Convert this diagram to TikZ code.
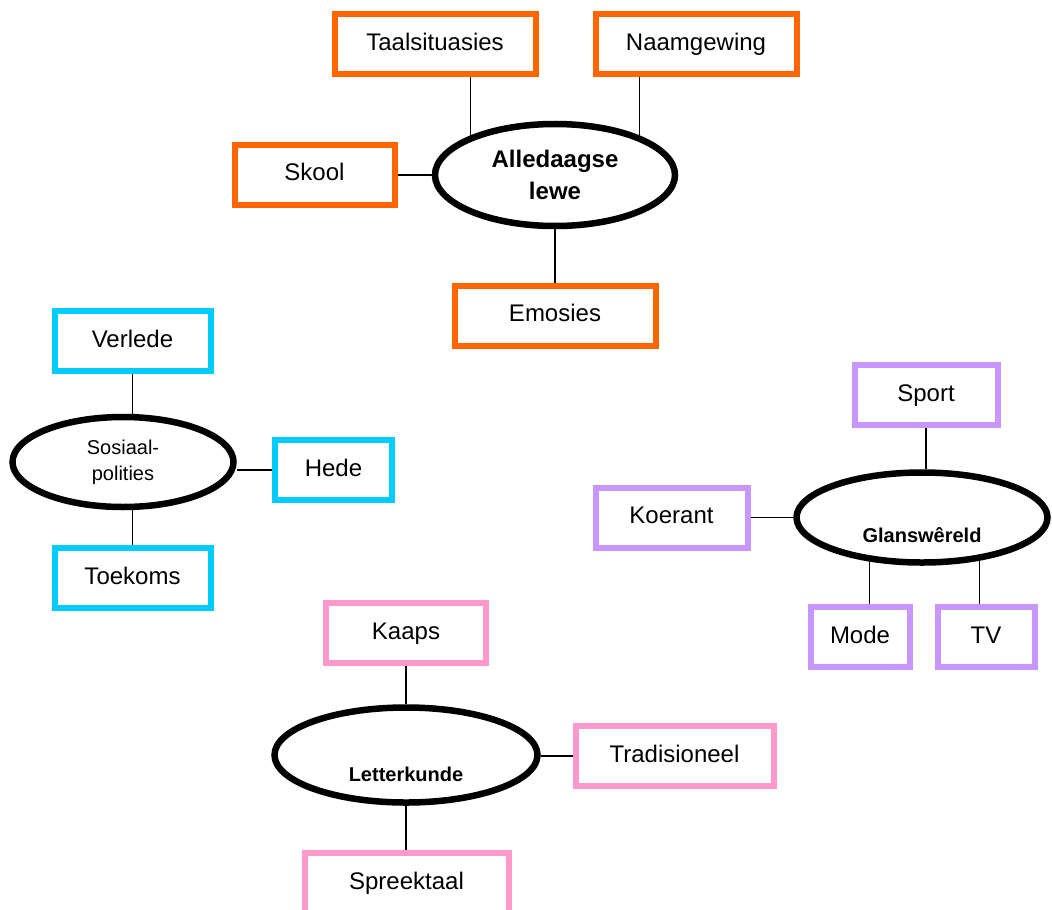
\documentclass[tikz,border=0pt]{standalone}
\usepackage{fontspec}
\setmainfont{Liberation Sans}
\usepackage{xcolor}
\usepackage{tikz}
\usetikzlibrary{shapes}

\definecolor{lewecol}{RGB}{255,102,0}
\definecolor{sosiaalcol}{RGB}{0,204,255}
\definecolor{glanscol}{RGB}{200,150,255}
\definecolor{lettercol}{RGB}{255,153,204}

\begin{document}
\begin{tikzpicture}[x=0.5pt,y=-0.5pt]
      \tikzstyle{tnode} = [draw, line width=3pt, rectangle, minimum height=30pt, inner sep=2pt, text height=9pt, text depth=3pt, font=\fontsize{12}{14}\selectfont]
      \tikzstyle{hnode} = [draw, line width=3.25pt, ellipse, inner sep=0pt, fill=white, align=center]
      \tikzstyle{cline} = [line width=0.75pt]

      \useasboundingbox (0,0) rectangle (1052,909);

      % alledaagse lewe
      \node[hnode, minimum width=120pt, minimum height=51pt, font=\bfseries\fontsize{12}{16}\selectfont] (alle) at (555, 175) {Alledaagse\\lewe};
      \node[tnode, draw=lewecol, minimum width=100.5pt] (taal) at (435, 44.5) {Taalsituasies};
      \node[tnode, draw=lewecol, minimum width=100.5pt] (naam) at (696, 44.5) {Naamgewing};
      \node[tnode, draw=lewecol, minimum width=80pt] (skool) at (314.5, 175) {Skool};
      \node[tnode, draw=lewecol, minimum width=100.5pt] (emo) at (555, 315.5) {Emosies};

      % sosiaal-polities
      \node[hnode, minimum width=110.5pt, minimum height=45pt, font=\fontsize{10}{13}\selectfont] (sos) at (123, 462) {Sosiaal-\\polities};
      \node[tnode, draw=sosiaalcol, minimum width=78pt] (verl) at (132.5, 341) {Verlede};
      \node[tnode, draw=sosiaalcol, minimum width=58.5pt] (hede) at (333.5, 470) {Hede};
      \node[tnode, draw=sosiaalcol, minimum width=78pt] (toek) at (132.5, 578) {Toekoms};

      % glanswereld
      \node[hnode, minimum width=125.5pt, minimum height=45pt, font=\bfseries\fontsize{10}{12}\selectfont, text height=24.5pt, text depth=0pt] (glans) at (922, 517.5) {Glanswêreld};
      \node[tnode, draw=glanscol, minimum width=71.5pt] (sport) at (926, 395) {Sport};
      \node[tnode, draw=glanscol, minimum width=76pt] (koer) at (671.5, 517.5) {Koerant};
      \node[tnode, draw=glanscol, minimum width=49.5pt] (mode) at (860, 637) {Mode};
      \node[tnode, draw=glanscol, minimum width=48.5pt] (tv) at (986, 637) {TV};

      % letterkunde
      \node[hnode, minimum width=131.5pt, minimum height=47.5pt, font=\bfseries\fontsize{10}{12}\selectfont, text height=26pt, text depth=0pt] (letter) at (406, 755) {Letterkunde};
      \node[tnode, draw=lettercol, minimum width=80pt] (kaaps) at (406, 633) {Kaaps};
      \node[tnode, draw=lettercol, minimum width=99pt] (trad) at (674.5, 756) {Tradisioneel};
      \node[tnode, draw=lettercol, minimum width=102pt] (spreek) at (406.5, 883) {Spreektaal};

      % connections
      \draw[-, cline] (taal.south -| alle.155) to (alle.155);
      \draw[-, cline] (naam.south -| alle.25) to (alle.25);
      \draw[-, cline] (skool.east) to (alle.west);
      \draw[-, cline] (alle.south) to (emo.north);

      \draw[-, cline] (verl.south) to (verl.south |- sos.north);
      \draw[-, cline] (hede.west) to (hede.west -| sos.east);
      \draw[-, cline] (toek.north |- sos.south) to (toek.north);

      \draw[-, cline] (sport.south) to (sport.south |- glans.north);
      \draw[-, cline] (koer.east) to (glans.west);
      \draw[-, cline] (glans.220) to (glans.220 |- mode.north);
      \draw[-, cline] (glans.-37) to (glans.-37 |- tv.north);

      \draw[-, cline] (kaaps.south) to (letter.north);
      \draw[-, cline] (trad.west) to (trad.west -| letter.east);
      \draw[-, cline] (letter.south) to (letter.south |- spreek.north);
    \end{tikzpicture}
\end{document}
